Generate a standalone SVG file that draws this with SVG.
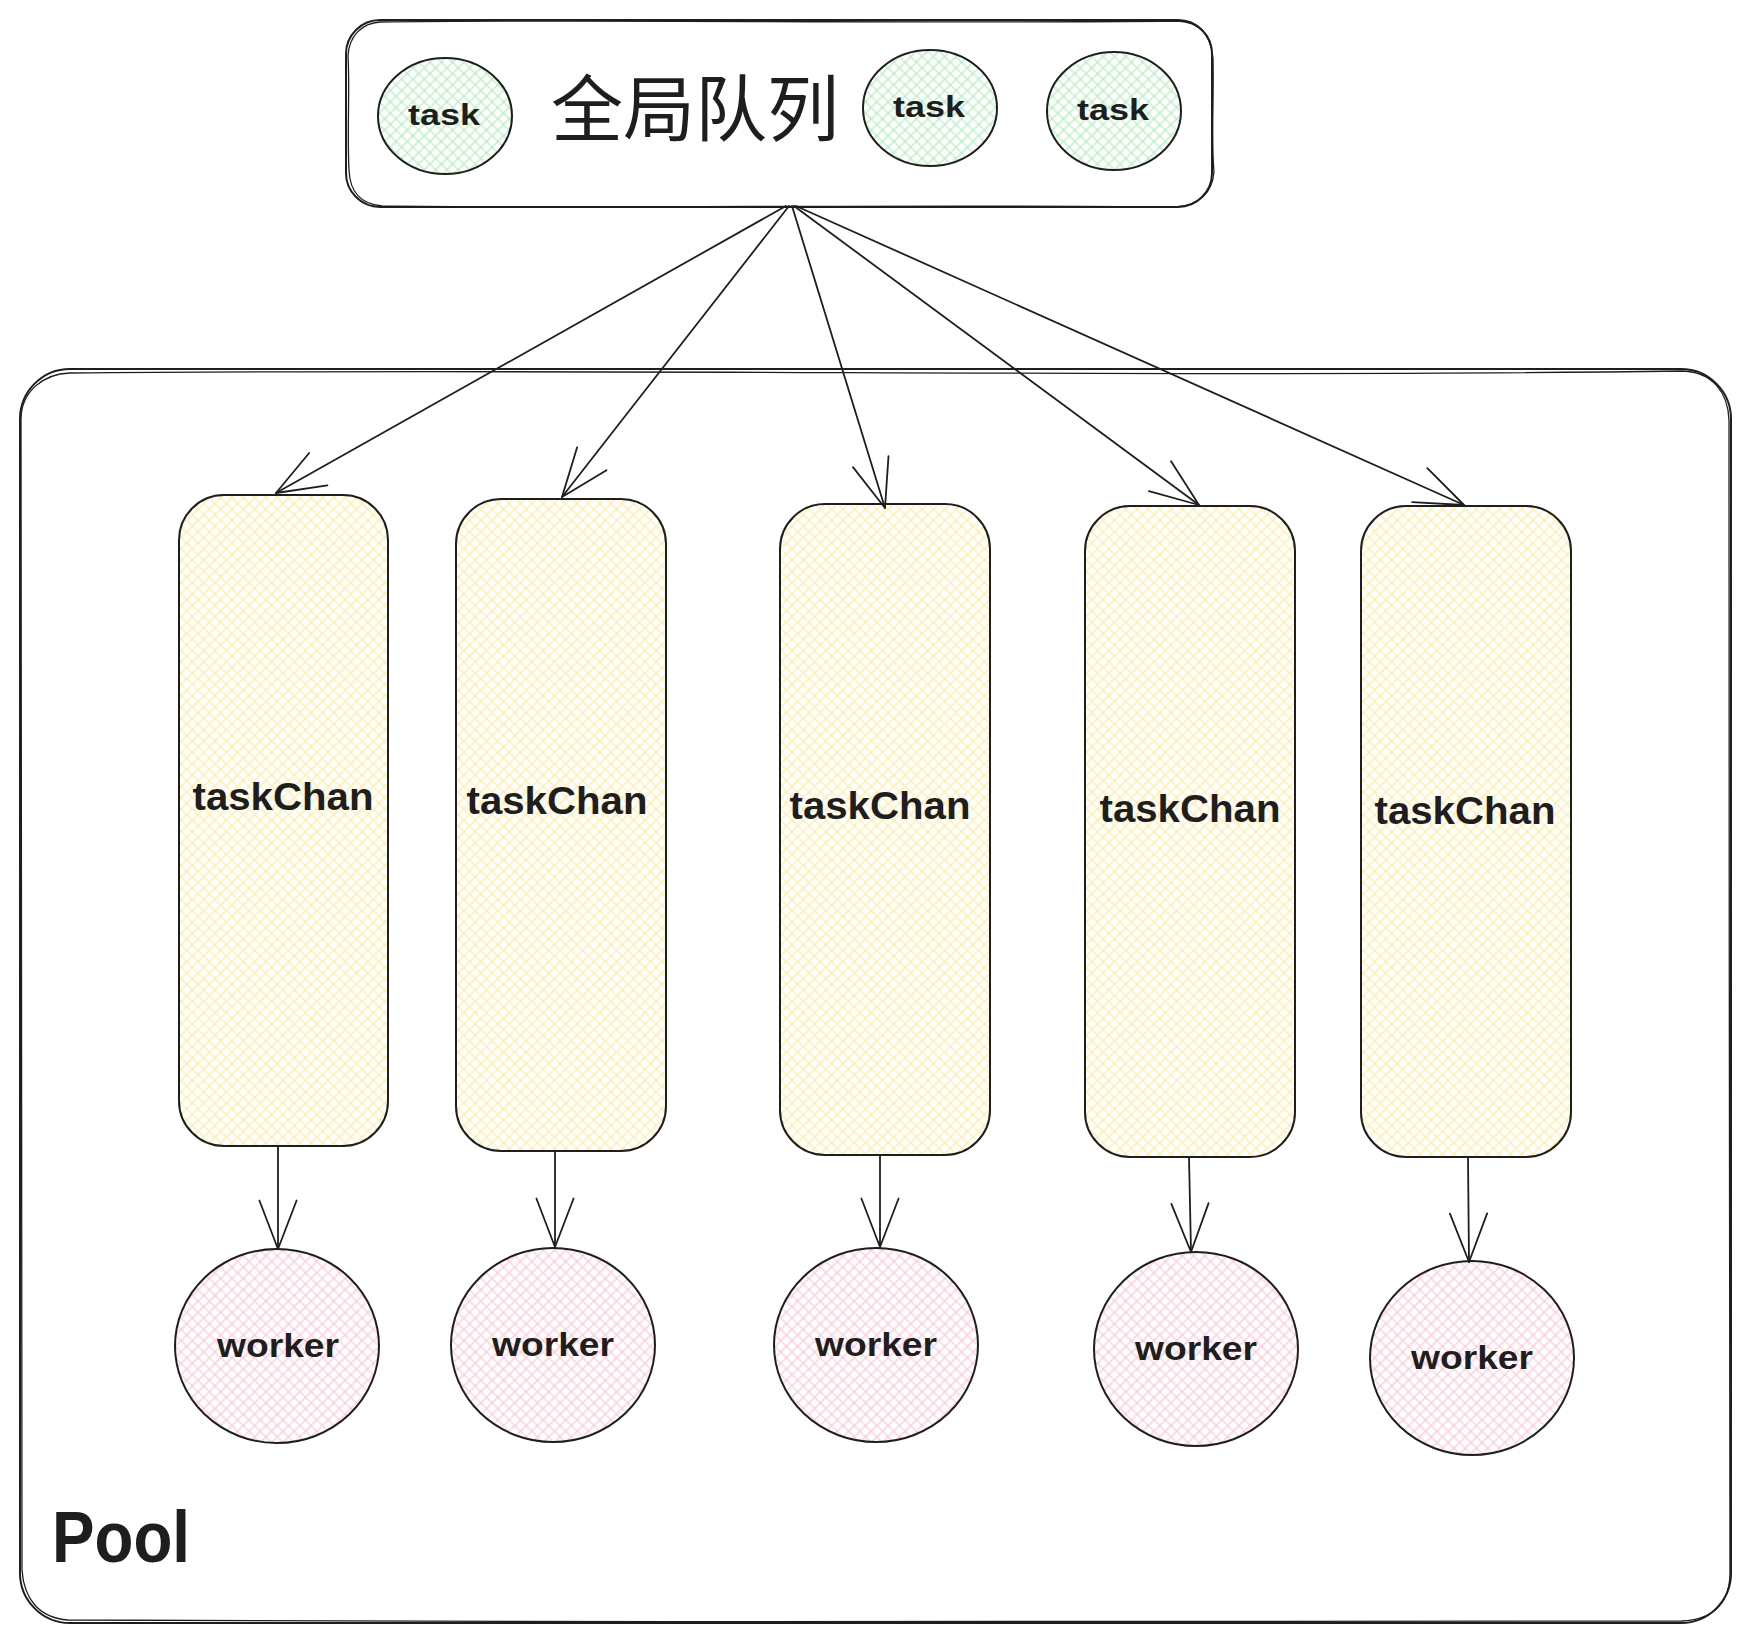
<svg xmlns="http://www.w3.org/2000/svg" width="1752" height="1641" viewBox="0 0 1752 1641">
<style>
.stroke{fill:none;stroke:#1e1e1e;stroke-width:2;stroke-linecap:round;stroke-linejoin:round}
.g{fill:url(#hG)}
.y{fill:url(#hY)}
.p{fill:url(#hP)}
.thin{fill:none;stroke:#1e1e1e;stroke-width:1.3;stroke-linecap:round}
.hand{font-family:"Liberation Sans",Arial,sans-serif;font-weight:bold;fill:#1e1e1e;text-anchor:middle}
.cjk{font-family:"Noto Sans CJK SC","Liberation Sans",sans-serif;fill:#1e1e1e;font-size:72px}
.conn{fill:none;stroke:#1e1e1e;stroke-width:1.8;stroke-linecap:round}
</style>
<defs>
<pattern id="hG" width="8" height="8" patternUnits="userSpaceOnUse" patternTransform="rotate(45)">
<path d="M0,4 H8 M4,0 V8" stroke="#a6ecb0" stroke-width="1.1" fill="none"/>
</pattern>
<pattern id="hY" width="8" height="8" patternUnits="userSpaceOnUse" patternTransform="rotate(45)">
<path d="M0,4 H8 M4,0 V8" stroke="#ffea94" stroke-width="1.1" fill="none"/>
</pattern>
<pattern id="hP" width="8" height="8" patternUnits="userSpaceOnUse" patternTransform="rotate(45)">
<path d="M0,4 H8 M4,0 V8" stroke="#ffbfd0" stroke-width="1.1" fill="none"/>
</pattern>
<marker id="arr" viewBox="-60 -25 64 50" refX="0" refY="0" markerWidth="64" markerHeight="50" markerUnits="userSpaceOnUse" orient="auto" overflow="visible">
<path d="M-48.5,-18.6 L0,0 L-48.5,18.6" fill="none" stroke="#1e1e1e" stroke-width="1.8" stroke-linecap="round" stroke-linejoin="round"/>
</marker>
</defs>
<rect width="1752" height="1641" fill="#ffffff"/>

<g id="pool">
<rect x="20" y="369" width="1711" height="1254" rx="50" class="stroke"/>
<path d="M70,373 C600,368 1200,378 1683,371 C1712,372 1728,392 1729,420 C1731,800 1727,1200 1730,1575 C1729,1604 1712,1620 1682,1621 C1200,1618 600,1625 68,1620 C40,1618 24,1600 22,1570 C19,1200 23,800 21,418 C22,392 42,374 70,373 Z" class="thin"/>
<text x="52" y="1562" class="hand" style="text-anchor:start;font-size:72px" textLength="138" lengthAdjust="spacingAndGlyphs">Pool</text>
</g>

<g id="global-queue">
<rect x="346" y="20" width="866" height="187" rx="34" class="stroke"/>
<path d="M380,22 C600,19 900,24 1178,21 C1200,22 1211,36 1213,58 C1214,100 1211,140 1214,172 C1212,195 1198,205 1176,207 C900,204 600,209 382,206 C360,204 350,192 349,170 C347,130 350,90 348,56 C349,36 362,23 380,22 Z" class="thin"/>
<text x="551" y="135" class="cjk">全局队列</text>
</g>

<g id="task-1">
<ellipse cx="445" cy="116" rx="67" ry="58" class="stroke g"/>
<text x="444" y="125" class="hand" style="font-size:30px" textLength="72" lengthAdjust="spacingAndGlyphs">task</text>
</g>
<g id="task-2">
<ellipse cx="930" cy="108" rx="67" ry="58" class="stroke g"/>
<text x="929" y="117" class="hand" style="font-size:30px" textLength="72" lengthAdjust="spacingAndGlyphs">task</text>
</g>
<g id="task-3">
<ellipse cx="1114" cy="111" rx="67" ry="59" class="stroke g"/>
<text x="1113" y="120" class="hand" style="font-size:30px" textLength="72" lengthAdjust="spacingAndGlyphs">task</text>
</g>

<g id="taskChan-1">
<rect x="179" y="495" width="209" height="651" rx="45" class="stroke y"/>
<text x="283" y="810" class="hand" style="font-size:38px" textLength="181" lengthAdjust="spacingAndGlyphs">taskChan</text>
</g>
<g id="taskChan-2">
<rect x="456" y="499" width="210" height="652" rx="45" class="stroke y"/>
<text x="557" y="814" class="hand" style="font-size:38px" textLength="181" lengthAdjust="spacingAndGlyphs">taskChan</text>
</g>
<g id="taskChan-3">
<rect x="780" y="504" width="210" height="651" rx="45" class="stroke y"/>
<text x="880" y="819" class="hand" style="font-size:38px" textLength="181" lengthAdjust="spacingAndGlyphs">taskChan</text>
</g>
<g id="taskChan-4">
<rect x="1085" y="506" width="210" height="651" rx="45" class="stroke y"/>
<text x="1190" y="822" class="hand" style="font-size:38px" textLength="181" lengthAdjust="spacingAndGlyphs">taskChan</text>
</g>
<g id="taskChan-5">
<rect x="1361" y="506" width="210" height="651" rx="45" class="stroke y"/>
<text x="1465" y="824" class="hand" style="font-size:38px" textLength="181" lengthAdjust="spacingAndGlyphs">taskChan</text>
</g>

<g id="worker-1">
<ellipse cx="277" cy="1346" rx="102" ry="97" class="stroke p"/>
<text x="278" y="1357" class="hand" style="font-size:34px" textLength="122" lengthAdjust="spacingAndGlyphs">worker</text>
</g>
<g id="worker-2">
<ellipse cx="553" cy="1345" rx="102" ry="97" class="stroke p"/>
<text x="553" y="1356" class="hand" style="font-size:34px" textLength="122" lengthAdjust="spacingAndGlyphs">worker</text>
</g>
<g id="worker-3">
<ellipse cx="876" cy="1345" rx="102" ry="97" class="stroke p"/>
<text x="876" y="1356" class="hand" style="font-size:34px" textLength="122" lengthAdjust="spacingAndGlyphs">worker</text>
</g>
<g id="worker-4">
<ellipse cx="1196" cy="1349" rx="102" ry="97" class="stroke p"/>
<text x="1196" y="1360" class="hand" style="font-size:34px" textLength="122" lengthAdjust="spacingAndGlyphs">worker</text>
</g>
<g id="worker-5">
<ellipse cx="1472" cy="1358" rx="102" ry="97" class="stroke p"/>
<text x="1472" y="1369" class="hand" style="font-size:34px" textLength="122" lengthAdjust="spacingAndGlyphs">worker</text>
</g>

<g id="connectors">
<path d="M786,206 L276,493" class="conn" marker-end="url(#arr)"/>
<path d="M789,206 L562,497" class="conn" marker-end="url(#arr)"/>
<path d="M792,206 L885,508" class="conn" marker-end="url(#arr)"/>
<path d="M794,206 L1199,505" class="conn" marker-end="url(#arr)"/>
<path d="M796,206 L1464,505" class="conn" marker-end="url(#arr)"/>
<path d="M278,1146 L278,1249" class="conn" marker-end="url(#arr)"/>
<path d="M555,1151 L555,1247" class="conn" marker-end="url(#arr)"/>
<path d="M880,1155 L880,1247" class="conn" marker-end="url(#arr)"/>
<path d="M1189,1157 L1191,1252" class="conn" marker-end="url(#arr)"/>
<path d="M1468,1158 L1469,1262" class="conn" marker-end="url(#arr)"/>
</g>
</svg>
